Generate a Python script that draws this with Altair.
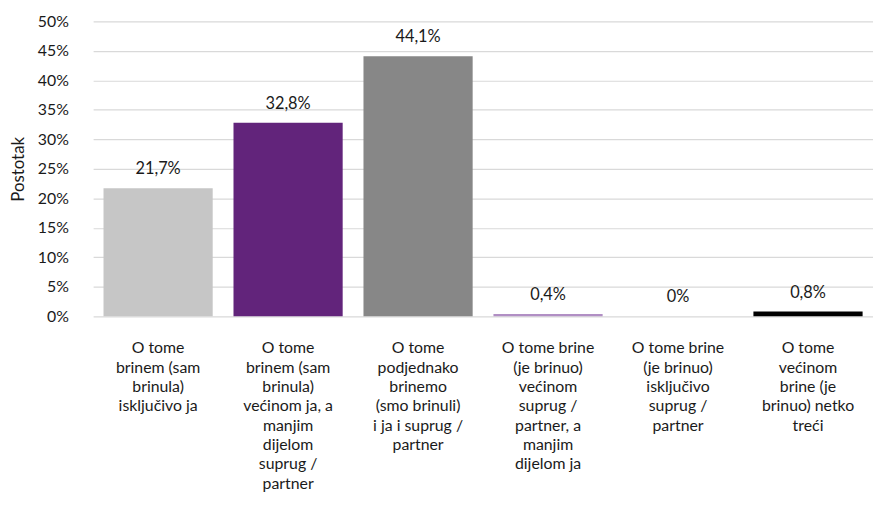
import altair as alt
import pandas as pd

categories = [
    "O tome\nbrinem (sam\nbrinula)\nisključivo ja",
    "O tome\nbrinem (sam\nbrinula)\nvećinom ja, a\nmanjim\ndijelom\nsuprug /\npartner",
    "O tome\npodjednako\nbrinemo\n(smo brinuli)\ni ja i suprug /\npartner",
    "O tome brine\n(je brinuo)\nvećinom\nsuprug /\npartner, a\nmanjim\ndijelom ja",
    "O tome brine\n(je brinuo)\nisključivo\nsuprug /\npartner",
    "O tome\nvećinom\nbrine (je\nbrinuo) netko\ntreći",
]
values = [21.7, 32.8, 44.1, 0.4, 0.0, 0.8]
colors = ["#c6c6c6", "#62247b", "#878787", "#b18fc4", "#d0d0d0", "#000000"]
tick_values = [0, 0.05, 0.10, 0.15, 0.20, 0.25, 0.30, 0.35, 0.40, 0.45, 0.50]

def fmt(v):
    if v == 0:
        return "0%"
    return f"{v:.1f}".replace(".", ",") + "%"

df = pd.DataFrame({
    "cat": categories,
    "val": [v / 100 for v in values],
    "label": [fmt(v) for v in values],
})

FONT = "Lato"

base = alt.Chart(df).encode(
    x=alt.X("cat:N", sort=categories, title=None,
            scale=alt.Scale(paddingInner=0.16, paddingOuter=0.08),
            axis=alt.Axis(labelExpr="split(datum.label, '\\n')", labelAngle=0,
                          labelLineHeight=19.5, labelFontSize=16, labelFont=FONT,
                          labelColor="#1a1a1a", labelPadding=24, domain=False,
                          ticks=False, labelBaseline="top", labelAlign="center")),
    y=alt.Y("val:Q", title="Postotak",
            scale=alt.Scale(domain=[0, 0.5]),
            axis=alt.Axis(format=".0%", values=tick_values, labelOverlap=False,
                          labelFontSize=16, labelFont=FONT, labelColor="#1a1a1a",
                          labelPadding=25, ticks=False, domain=False,
                          gridColor="#d9d9d9", gridWidth=1.2,
                          titleFont=FONT, titleFontSize=17, titleFontWeight="normal",
                          titleColor="#1a1a1a", titlePadding=10)),
)

bars = base.mark_bar().encode(
    color=alt.Color("cat:N", sort=categories,
                    scale=alt.Scale(domain=categories, range=colors), legend=None),
)

text = base.mark_text(dy=-19, fontSize=16.5, font=FONT, color="#1a1a1a").encode(
    text="label:N",
)

chart = alt.layer(bars, text).properties(
    width=788, height=298,
    padding={"left": 1, "right": 0, "top": 3, "bottom": 0},
).configure_view(stroke=None)

chart.save("out.html", embed_options={"renderer": "svg", "actions": False})
